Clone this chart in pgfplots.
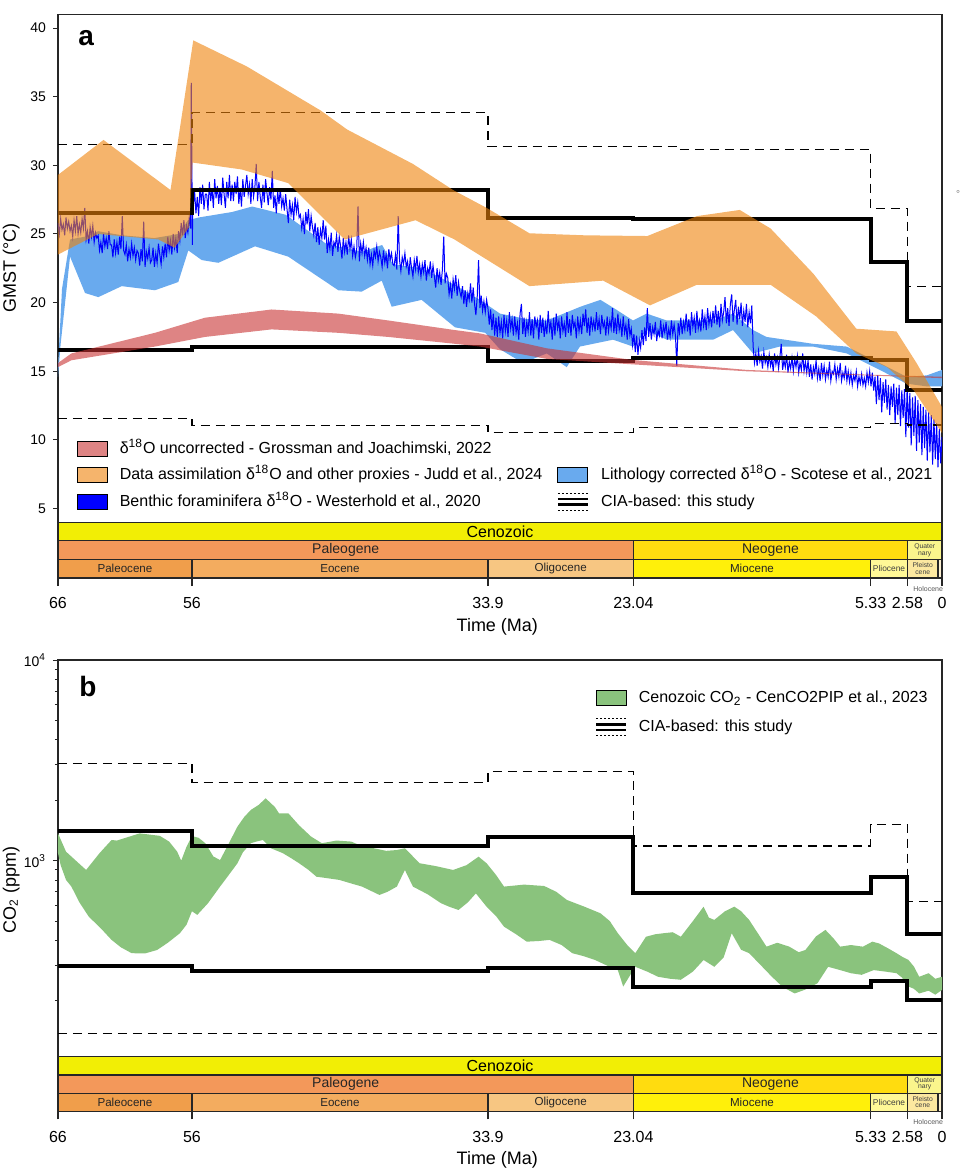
\documentclass[border=0pt]{standalone}
\usepackage{pgfplots}
\pgfplotsset{compat=1.18}
\usepackage{pgfplotstable}
\usepackage{fontspec}
\setmainfont{Liberation Sans}

% geological time scale colours
\definecolor{cenozoic}{RGB}{242,238,5}
\definecolor{paleogene}{RGB}{243,152,90}
\definecolor{neogene}{RGB}{255,220,15}
\definecolor{quaternary}{RGB}{250,245,140}
\definecolor{paleocene}{RGB}{240,158,75}
\definecolor{eocene}{RGB}{243,172,95}
\definecolor{oligocene}{RGB}{247,198,130}
\definecolor{miocene}{RGB}{255,240,10}
\definecolor{pliocene}{RGB}{255,248,150}
\definecolor{pleistocene}{RGB}{252,232,160}
\definecolor{holocene}{RGB}{252,240,210}
% data series colours
\definecolor{judd}{RGB}{238,130,10}
\definecolor{grossman}{RGB}{200,50,50}
\definecolor{scotese}{RGB}{105,170,238}
\definecolor{westerhold}{RGB}{0,0,255}
\definecolor{cenco}{RGB}{138,195,125}

\pgfplotsset{
  /pgf/number format/assume math mode=true,
  patch legend/.style={legend image code/.code={\fill[##1] (0pt,-3.75pt) rectangle (15pt,3.75pt);}},
  cia legend/.style={legend image code/.code={%
      \draw[line width=0.6pt, dash pattern=on 1pt off 1pt] (0pt,4.3pt) -- (15pt,4.3pt);
      \draw[line width=1.4pt] (0pt,1.45pt) -- (15pt,1.45pt);
      \draw[line width=1.4pt] (0pt,-1.45pt) -- (15pt,-1.45pt);
      \draw[line width=0.6pt, dash pattern=on 1pt off 1pt] (0pt,-4.3pt) -- (15pt,-4.3pt);}},
  cia solid/.style={black, line width=2pt, const plot, mark=none},
  cia dashed/.style={black, line width=0.75pt, dash pattern=on 4.5pt off 3pt, const plot, mark=none},
  ts bar/.style={draw=black!85, line width=0.6pt, mark=none},
  main axis/.style={
    width=442pt, scale only axis,
    xmin=0, xmax=66, x dir=reverse, xtick=\empty,
    ytick pos=left, tick align=outside, major tick length=2.5pt,
    axis line style={black!85, line width=0.6pt},
    tick style={black!85, line width=0.5pt},
    yticklabel style={font=\fontsize{7}{8}\selectfont},
    ylabel style={font=\fontsize{9}{10}\selectfont, anchor=center},
    legend cell align=left,
  },
  timescale axis/.style={
    width=442pt, scale only axis, clip=false,
    xmin=0, xmax=66, x dir=reverse, ymin=0, ymax=3, ytick=\empty,
    xtick={66,56,33.9,23.04,5.33,2.58,0},
    xticklabels={66,56,33.9,23.04,5.33,2.58,0},
    xtick pos=left, tick align=outside, major tick length=4pt,
    axis line style={black!85, line width=0.6pt},
    tick style={black!85, line width=0.6pt},
    xticklabel style={font=\fontsize{8}{9}\selectfont, yshift=-2.3pt},
    xlabel={Time (Ma)},
    xlabel style={at={(axis description cs:0.497,0)}, anchor=base, yshift=-26.8pt,
                  font=\fontsize{9}{10}\selectfont},
  },
}

% one box of the time scale: colour, older age, younger age, lower row, upper row
\newcommand{\tsbox}[5]{\addplot[ts bar, fill=#1] coordinates {(#2,#4) (#3,#4) (#3,#5) (#2,#5) (#2,#4)};}
\newcommand{\timescalebars}{%
  \tsbox{cenozoic}{66}{0}{2}{3}
  \tsbox{paleogene}{66}{23.04}{1}{2}
  \tsbox{neogene}{23.04}{2.58}{1}{2}
  \tsbox{quaternary}{2.58}{0}{1}{2}
  \tsbox{paleocene}{66}{56}{0}{1}
  \tsbox{eocene}{56}{33.9}{0}{1}
  \tsbox{oligocene}{33.9}{23.04}{0}{1}
  \tsbox{miocene}{23.04}{5.33}{0}{1}
  \tsbox{pliocene}{5.33}{2.58}{0}{1}
  \tsbox{pleistocene}{2.58}{0.3}{0}{1}
  \tsbox{holocene}{0.3}{0}{0}{1}
  \node[font=\fontsize{8}{9}\selectfont, text=black] at (axis cs:33,2.5) {Cenozoic};
  \node[font=\fontsize{7}{8}\selectfont, text=black!85] at (axis cs:44.52,1.5) {Paleogene};
  \node[font=\fontsize{7}{8}\selectfont, text=black!85] at (axis cs:12.81,1.5) {Neogene};
  \node[font=\fontsize{3.4}{3.2}\selectfont, align=center, inner sep=0pt, text=black!75] at (axis cs:1.29,1.5) {Quater\\nary};
  \node[font=\fontsize{5.8}{6}\selectfont, text=black!85] at (axis cs:61,0.5) {Paleocene};
  \node[font=\fontsize{5.8}{6}\selectfont, text=black!85] at (axis cs:44.95,0.5) {Eocene};
  \node[font=\fontsize{5.8}{6}\selectfont, text=black!85] at (axis cs:28.47,0.5) {Oligocene};
  \node[font=\fontsize{5.8}{6}\selectfont, text=black!85] at (axis cs:14.185,0.5) {Miocene};
  \node[font=\fontsize{4.2}{4.2}\selectfont, text=black!75] at (axis cs:3.955,0.5) {Pliocene};
  \node[font=\fontsize{3.4}{3.2}\selectfont, align=center, inner sep=0pt, text=black!75] at (axis cs:1.44,0.5) {Pleisto\\cene};
  \node[font=\fontsize{3.5}{3.5}\selectfont, anchor=north east, inner sep=0pt, text=black!65] at (axis cs:-0.1,-0.45) {Holocene};
}

% ---------------- GMST reconstructions (age in Ma, temperature in deg C) ----------------
% Westerhold et al. 2020, benthic foraminifera d18O
\pgfplotstableread{
age temp
66.0 25.8
65.9 25.0
65.8 26.1
65.7 25.3
65.6 25.7
65.5 24.9
65.4 26.2
65.3 25.4
65.2 25.9
65.1 25.2
65.0 25.6
64.9 24.8
64.8 26.0
64.7 25.2
64.6 26.3
64.5 25.0
64.4 25.7
64.3 25.1
64.2 26.1
64.1 25.4
64.0 26.9
63.9 24.6
63.8 25.2
63.7 24.3
63.6 25.5
63.5 24.8
63.4 25.6
63.3 24.4
63.2 25.1
63.1 24.7
63.0 24.9
62.9 23.8
62.8 24.4
62.7 23.6
62.6 25.0
62.5 24.1
62.4 24.7
62.3 23.9
62.2 25.2
62.1 24.2
62.0 24.2
61.9 23.3
61.8 24.6
61.7 23.6
61.6 24.4
61.5 23.5
61.4 24.8
61.3 23.9
61.2 26.3
61.1 23.8
61.0 23.5
60.9 24.2
60.8 23.0
60.7 23.9
60.6 23.3
60.5 24.3
60.4 23.4
60.3 24.0
60.2 23.1
60.1 23.8
60.0 23.6
59.9 22.7
59.8 23.9
59.7 23.0
59.6 25.9
59.5 22.6
59.4 23.7
59.3 23.2
59.2 24.0
59.1 22.9
59.0 23.1
58.9 24.0
58.8 22.6
58.7 23.6
58.6 22.9
58.5 24.3
58.4 23.5
58.3 22.8
58.2 24.1
58.1 23.3
58.0 24.3
57.9 23.3
57.8 24.8
57.7 23.8
57.6 24.5
57.5 23.5
57.4 25.0
57.3 24.0
57.2 24.7
57.1 23.6
57.0 25.2
56.9 24.5
56.8 25.8
56.7 24.9
56.6 26.0
56.5 24.7
56.4 25.6
56.3 25.1
56.2 26.2
56.1 25.4
56.05 36.0
56.0 29.7
55.97 24.2
55.93 27.8
55.9 27.0
55.8 28.1
55.7 26.5
55.6 27.7
55.5 26.3
55.4 28.4
55.3 27.2
55.2 28.6
55.1 26.8
55.0 27.9
54.9 27.9
54.8 26.7
54.7 28.8
54.6 27.4
54.5 28.3
54.4 26.9
54.3 29.0
54.2 27.6
54.1 28.5
54.0 27.2
53.9 28.3
53.8 27.1
53.7 29.1
53.6 27.9
53.5 26.9
53.4 28.8
53.3 27.6
53.2 29.3
53.1 27.4
53.0 28.6
52.9 27.4
52.8 28.8
52.7 27.9
52.6 29.2
52.5 27.2
52.4 28.3
52.3 27.0
52.2 29.0
52.1 27.7
52.0 28.5
51.9 29.3
51.8 27.9
51.7 28.6
51.6 27.2
51.5 29.0
51.4 27.7
51.3 28.4
51.2 30.1
51.1 27.4
51.0 28.8
50.9 27.7
50.8 26.9
50.7 28.6
50.6 27.3
50.5 29.0
50.4 28.0
50.3 27.1
50.2 28.4
50.1 27.5
50.0 29.6
49.9 26.9
49.8 27.8
49.7 26.5
49.6 28.1
49.5 27.2
49.4 28.3
49.3 27.0
49.2 27.6
49.1 26.7
49.0 27.9
48.9 26.8
48.8 25.8
48.7 27.5
48.6 26.4
48.5 27.1
48.4 26.0
48.3 27.7
48.2 26.6
48.1 27.3
48.0 26.2
47.9 26.4
47.8 25.4
47.7 26.1
47.6 25.0
47.5 26.6
47.4 25.7
47.3 26.8
47.2 25.2
47.1 26.3
47.0 25.5
46.9 24.9
46.8 25.8
46.7 24.4
46.6 25.5
46.5 24.2
46.4 25.3
46.3 24.7
46.2 26.0
46.1 24.6
46.0 25.6
45.9 23.6
45.8 24.6
45.7 23.9
45.6 25.1
45.5 23.4
45.4 24.4
45.3 24.1
45.2 24.9
45.1 23.7
45.0 24.8
44.9 24.1
44.8 23.2
44.7 24.7
44.6 23.7
44.5 24.4
44.4 23.5
44.3 24.9
44.2 23.9
44.1 24.6
44.0 23.4
43.9 24.1
43.8 23.3
43.7 23.8
43.6 27.0
43.5 23.0
43.4 24.3
43.3 23.6
43.2 24.4
43.1 23.4
43.0 24.0
42.9 23.1
42.8 24.0
42.7 22.8
42.6 23.5
42.5 22.7
42.4 23.8
42.3 23.3
42.2 24.1
42.1 23.0
42.0 23.7
41.9 23.3
41.8 22.6
41.7 23.8
41.6 22.9
41.5 23.5
41.4 22.5
41.3 23.9
41.2 23.1
41.1 23.6
41.0 22.8
40.9 22.7
40.8 23.5
40.7 22.4
40.6 26.3
40.5 23.1
40.4 22.3
40.3 23.3
40.2 22.8
40.1 23.6
40.0 22.6
39.9 23.0
39.8 22.0
39.7 23.3
39.6 22.5
39.5 21.9
39.4 23.1
39.3 22.4
39.2 23.4
39.1 22.2
39.0 22.8
38.9 21.9
38.8 22.8
38.7 22.2
38.6 23.1
38.5 21.6
38.4 22.5
38.3 22.1
38.2 23.0
38.1 21.8
38.0 22.7
37.9 21.9
37.8 21.1
37.7 22.5
37.6 21.6
37.5 22.2
37.4 21.3
37.3 22.4
37.2 24.8
37.1 21.4
37.0 22.1
36.9 21.8
36.8 20.6
36.7 21.3
36.6 20.3
36.5 21.7
36.4 21.0
36.3 22.0
36.2 20.5
36.1 21.5
36.0 20.8
35.9 20.4
35.8 21.2
35.7 19.9
35.6 20.9
35.5 19.7
35.4 20.7
35.3 20.2
35.2 21.4
35.1 20.0
35.0 21.1
34.9 19.9
34.8 19.1
34.7 20.4
34.6 23.1
34.5 19.6
34.4 20.5
34.3 19.4
34.2 20.1
34.1 19.3
34.0 20.2
33.9 19.6
33.8 18.4
33.7 19.5
33.6 18.0
33.5 19.2
33.4 17.6
33.3 18.9
33.2 17.5
33.1 19.0
33.0 17.8
32.9 18.6
32.8 17.4
32.7 19.1
32.6 17.9
32.5 18.7
32.4 17.5
32.3 19.3
32.2 18.1
32.1 18.8
32.0 17.6
31.9 19.0
31.8 17.8
31.7 18.5
31.6 17.3
31.5 19.2
31.4 19.9
31.3 17.7
31.2 18.9
31.1 17.5
31.0 18.6
30.9 17.9
30.8 19.3
30.7 17.6
30.6 18.8
30.5 17.4
30.4 19.0
30.3 18.2
30.2 18.7
30.1 17.3
30.0 19.1
29.9 17.8
29.8 18.9
29.7 17.5
29.6 18.5
29.5 17.7
29.4 19.4
29.3 18.0
29.2 18.6
29.1 17.3
29.0 18.9
28.9 17.6
28.8 19.2
28.7 18.1
28.6 18.7
28.5 17.4
28.4 19.0
28.3 17.9
28.2 18.5
28.1 17.5
28.0 19.3
27.9 17.8
27.8 18.8
27.7 17.6
27.6 19.1
27.5 18.2
27.4 18.6
27.3 17.4
27.2 19.0
27.1 17.9
27.0 18.7
26.9 17.7
26.8 19.2
26.7 18.3
26.6 19.5
26.5 17.8
26.4 18.9
26.3 17.6
26.2 19.0
26.1 18.1
26.0 18.7
25.9 17.9
25.8 19.3
25.7 18.0
25.6 18.8
25.5 17.7
25.4 19.1
25.3 18.2
25.2 18.6
25.1 17.6
25.0 19.0
24.9 17.9
24.8 18.7
24.7 18.1
24.6 19.6
24.5 17.8
24.4 18.9
24.3 17.7
24.2 19.2
24.1 18.0
24.0 18.6
23.9 17.5
23.8 19.0
23.7 17.8
23.6 18.4
23.5 17.3
23.4 18.8
23.3 17.6
23.2 18.1
23.1 16.9
23.0 17.7
22.9 16.4
22.8 17.6
22.7 16.2
22.6 17.3
22.5 16.7
22.4 18.0
22.3 16.9
22.2 18.2
22.1 17.2
22.0 19.6
21.9 17.5
21.8 18.5
21.7 17.3
21.6 18.2
21.5 17.7
21.4 18.6
21.3 17.2
21.2 18.0
21.1 17.6
21.0 18.7
20.9 17.4
20.8 18.3
20.7 17.8
20.6 18.6
20.5 17.3
20.4 18.1
20.3 17.5
20.2 18.7
20.1 17.7
20.0 18.4
19.9 17.6
19.8 15.4
19.7 18.5
19.6 17.8
19.5 18.9
19.4 17.7
19.3 18.6
19.2 18.0
19.1 19.2
19.0 17.9
18.9 18.8
18.8 17.6
18.7 19.3
18.6 18.2
18.5 18.9
18.4 17.8
18.3 19.4
18.2 18.1
18.1 18.7
18.0 17.9
17.9 19.5
17.8 18.3
17.7 19.0
17.6 18.0
17.5 19.6
17.4 18.4
17.3 19.1
17.2 18.2
17.1 19.4
17.0 18.5
16.9 19.8
16.8 18.4
16.7 19.4
16.6 18.2
16.5 19.9
16.4 18.7
16.3 19.3
16.2 20.4
16.1 18.5
16.0 19.6
15.9 18.3
15.8 19.9
15.7 20.6
15.6 18.6
15.5 19.5
15.4 20.2
15.3 18.4
15.2 19.7
15.1 18.8
15.0 20.0
14.9 18.3
14.8 19.4
14.7 18.6
14.6 19.9
14.5 18.2
14.4 19.3
14.3 18.5
14.2 19.8
14.1 16.8
14.0 15.6
13.9 16.3
13.8 15.4
13.7 16.5
13.6 15.7
13.5 16.1
13.4 15.2
13.3 16.4
13.2 15.6
13.1 16.0
13.0 15.3
12.9 16.2
12.8 15.4
12.7 15.9
12.6 15.0
12.5 16.3
12.4 15.5
12.3 16.0
12.2 15.2
12.1 16.1
12.0 17.0
11.9 15.1
11.8 15.8
11.7 15.3
11.6 16.2
11.5 14.9
11.4 15.7
11.3 15.2
11.2 16.0
11.1 15.0
11.0 15.9
10.9 15.3
10.8 16.1
10.7 14.9
10.6 15.6
10.5 15.1
10.4 16.3
10.3 15.0
10.2 15.7
10.1 14.9
10.0 15.8
9.9 14.6
9.8 15.5
9.7 14.4
9.6 15.3
9.5 14.8
9.4 15.8
9.3 14.5
9.2 15.2
9.1 14.3
9.0 15.6
8.9 14.7
8.8 15.4
8.7 14.4
8.6 15.1
8.5 14.6
8.4 15.7
8.3 14.3
8.2 15.0
8.1 14.8
8.0 15.5
7.9 14.4
7.8 15.2
7.7 14.6
7.6 15.6
7.5 14.3
7.4 14.9
7.3 14.5
7.2 15.4
7.1 14.3
7.0 15.0
6.9 14.2
6.8 14.9
6.7 14.0
6.6 14.7
6.5 14.3
6.4 15.0
6.3 13.9
6.2 14.6
6.1 14.1
6.0 14.8
5.9 14.0
5.8 14.5
5.7 13.9
5.6 14.9
5.5 14.2
5.4 15.0
5.3 13.9
5.2 14.9
5.1 13.6
5.0 14.6
4.9 12.6
4.8 14.7
4.7 12.9
4.6 14.5
4.5 12.0
4.4 14.2
4.3 12.7
4.2 14.4
4.1 12.2
4.0 14.0
3.9 11.8
3.8 13.9
3.7 12.4
3.6 14.1
3.5 11.2
3.4 13.8
3.3 11.8
3.2 14.0
3.1 11.0
3.0 13.6
2.9 11.6
2.8 13.7
2.7 10.2
2.6 13.9
2.5 10.9
2.4 13.4
2.3 9.6
2.2 13.1
2.1 10.3
2.0 13.2
1.9 9.2
1.8 12.9
1.7 9.8
1.6 12.6
1.5 8.9
1.4 12.4
1.3 9.4
1.2 12.2
1.1 8.5
1.0 12.0
0.9 9.1
0.8 11.8
0.7 8.2
0.6 11.5
0.5 8.6
0.4 11.2
0.3 8.0
0.2 10.8
0.1 8.3
0.0 10.2
}\westerhold

% Scotese et al. 2021, lithology corrected: upper edge old to young, then lower edge young to old
\pgfplotstableread{
age temp
66.0 15.3
65.7 21.0
65.1 24.6
64.0 24.8
63.0 25.2
61.2 24.9
58.8 24.7
57.0 25.0
56.3 26.0
55.5 26.2
53.0 26.6
51.5 27.0
49.0 26.4
46.0 24.3
43.3 23.7
41.8 24.2
41.0 22.8
38.8 22.5
36.4 21.3
34.5 20.2
33.0 19.2
31.0 18.8
29.5 18.7
27.0 19.7
25.5 20.2
24.5 19.6
23.07 18.7
22.05 19.2
20.55 18.7
17.09 18.7
15.6 19.2
14.11 18.0
13.1 17.5
9.63 17.0
7.12 16.8
4.65 15.6
2.66 14.6
1.14 14.7
0.0 15.1
0.0 13.9
1.14 13.9
2.66 14.1
4.65 15.1
7.12 16.3
9.63 16.8
12.1 16.8
14.11 16.3
15.6 18.0
17.09 17.3
20.55 17.3
22.05 18.0
23.07 16.8
24.56 17.3
27.03 16.8
28.02 15.3
29.51 16.3
31.28 15.6
33.0 16.6
34.1 17.8
36.36 18.2
38.85 20.2
41.09 19.7
41.83 21.6
43.33 20.8
45.07 20.9
48.81 23.35
51.29 24.1
54.03 22.9
55.27 23.1
56.27 23.8
57.02 21.5
58.76 20.9
61.24 21.2
62.99 20.4
63.98 20.7
65.1 23.35
65.8 17.0
66.0 14.6
}\scotese

% Grossman and Joachimski 2022, uncorrected d18O
\pgfplotstableread{
age temp
66.0 15.6
65.0 16.3
58.76 17.8
55.03 18.9
50.05 19.5
45.07 19.2
41.34 18.7
36.36 18.0
34.5 17.76
29.5 16.67
23.05 15.82
14.6 15.1
7.1 14.8
0.0 14.6
0.0 14.5
7.1 14.75
14.6 15.0
23.05 15.5
29.5 15.9
34.5 16.8
36.36 17.0
41.34 17.5
45.07 17.8
50.05 18.05
55.03 17.5
58.76 16.8
65.0 15.8
66.0 15.3
}\grossman

% Judd et al. 2024, data assimilation
\pgfplotstableread{
age temp
66.0 29.3
62.6 31.85
57.6 28.2
55.9 39.1
51.9 37.2
46.4 34.0
44.4 32.6
39.5 30.1
36.5 28.2
34.0 26.9
30.8 25.05
26.6 24.9
22.0 24.85
18.3 26.3
15.1 26.75
12.8 25.4
9.6 22.1
6.4 18.1
3.4 17.9
1.9 15.6
0.0 12.4
0.0 10.5
2.1 13.6
4.1 15.3
6.4 16.3
9.4 19.0
12.8 21.3
18.3 21.3
21.8 19.8
25.3 21.6
30.8 21.2
36.4 24.6
39.3 26.0
44.6 24.6
48.8 28.7
52.3 29.7
55.95 30.2
56.2 25.5
57.3 24.0
58.5 24.6
63.0 25.0
66.0 23.5
}\judd

% ---------------- Cenozoic CO2 (CenCO2PIP 2023), ppm ----------------
\pgfplotstableread{
age co2
66.0 1368
65.4 1109
63.9 899
62.9 1090
62.0 1268
61.6 1260
59.9 1368
58.4 1330
57.7 1245
57.1 1109
56.8 1000
56.4 1175
56.0 1327
55.5 1300
55.0 1222
54.4 1050
53.9 1007
53.3 1200
52.6 1479
52.1 1650
51.6 1791
51.0 1900
50.5 2046
50.1 1932
49.8 1850
49.5 1722
48.8 1722
48.0 1500
47.1 1318
46.3 1222
45.2 1260
44.1 1245
43.3 1180
42.4 1153
41.5 1120
40.7 1130
40.1 1153
39.5 1050
39.0 971
37.8 940
36.5 899
35.5 950
34.6 1047
34.0 971
33.3 850
32.7 743
31.2 760
29.7 748
28.8 700
28.0 637
26.7 590
25.5 547
24.8 500
24.2 435
23.5 380
22.9 346
22.1 418
21.4 430
20.8 435
20.1 440
19.5 418
18.6 500
17.8 590
17.4 520
17.0 507
16.2 560
15.5 590
15.0 560
14.4 507
13.7 430
13.1 373
12.3 390
11.4 373
10.7 350
10.2 359
9.4 420
8.7 452
8.1 410
7.6 373
6.8 380
5.9 373
5.2 395
4.7 387
4.0 365
3.4 346
2.9 330
2.5 320
2.1 297
1.7 264
1.0 275
0.5 258
0.0 264
0.0 227
0.5 215
1.0 225
1.7 218
2.1 230
2.5 236
3.0 262
3.4 275
4.2 280
5.1 285
6.0 270
6.8 275
7.6 285
8.5 296
9.3 245
10.2 228
11.0 218
11.9 235
12.7 264
13.5 300
14.4 346
15.0 360
15.7 435
16.3 330
17.0 296
17.8 320
18.6 280
19.5 255
20.3 258
21.2 264
22.0 280
22.9 296
23.8 236
24.2 285
25.0 300
25.9 320
26.8 335
27.6 346
28.4 380
29.3 403
30.1 398
31.0 395
31.8 430
32.7 469
33.3 530
34.0 590
34.8 687
35.4 620
36.1 568
36.8 590
37.4 614
38.4 680
39.5 743
40.1 899
40.7 743
41.4 700
42.0 675
43.3 743
44.1 770
45.0 802
46.0 820
46.7 832
47.3 900
48.0 971
48.6 1030
49.2 1089
50.1 1153
50.7 1268
51.2 1245
51.6 1222
52.2 1100
52.6 971
53.3 840
53.9 743
54.8 614
55.6 537
56.0 560
56.4 480
56.9 435
57.8 390
58.6 359
59.5 345
60.5 346
61.3 370
62.0 403
62.8 460
63.7 526
64.4 620
65.0 743
65.4 802
65.8 950
66.0 1090
}\cenco

\begin{document}
\begin{tikzpicture}
\path[use as bounding box] (0pt,0pt) rectangle (480pt,-585pt);

% ===================== panel a: GMST =====================
\begin{axis}[main axis, at={(29pt,-7.15pt)}, anchor=north west, height=254pt,
  ymin=4, ymax=41, ytick={5,10,...,40},
  ylabel={GMST (°C)}, ylabel style={at={(axis description cs:-0.053,0.5)}},
  legend columns=2,
  legend style={at={(axis description cs:0.0215,0.16)}, anchor=north west,
    draw=none, fill=none, inner sep=0pt, outer sep=0pt,
    font=\fontsize{8}{9.6}\selectfont, row sep=5pt,
    nodes={inner sep=0pt, text height=6pt, text depth=1.5pt},
    /tikz/every odd column/.append style={column sep=6pt},
    /tikz/every even column/.append style={column sep=7pt}},
]
\addplot[forget plot, fill=scotese, draw=none] table[x=age, y=temp] {\scotese};
\addplot[forget plot, westerhold, line width=0.5pt, mark=none] table[x=age, y=temp] {\westerhold};
% CIA-based estimates
\addplot[forget plot, cia dashed] coordinates {(66,31.53) (56,33.83) (33.9,31.36) (19.8,31.17) (5.33,26.87) (2.58,21.16) (0,21.16)};
\addplot[forget plot, cia solid] coordinates {(66,26.55) (56,28.2) (33.9,26.16) (23.04,26.07) (5.33,22.98) (2.58,18.68) (0,18.68)};
\addplot[forget plot, cia solid] coordinates {(66,16.55) (56,16.74) (33.9,15.77) (23.04,15.99) (5.33,15.85) (2.58,13.65) (0,13.65)};
\addplot[forget plot, cia dashed] coordinates {(66,11.57) (56,11.06) (33.9,10.53) (23.04,10.89) (5.33,11.2) (2.58,11.1) (0,11.1)};
\addplot[forget plot, fill=grossman, fill opacity=0.6, draw=none] table[x=age, y=temp] {\grossman};
\addplot[forget plot, fill=judd, fill opacity=0.6, draw=none] table[x=age, y=temp] {\judd};

\addlegendimage{patch legend, fill=grossman, fill opacity=0.6}
\addlegendentry{δ\textsuperscript{18}O uncorrected - Grossman and Joachimski, 2022}
\addlegendimage{empty legend}
\addlegendentry{}
\addlegendimage{patch legend, fill=judd, fill opacity=0.6}
\addlegendentry{Data assimilation δ\textsuperscript{18}O and other proxies - Judd et al., 2024}
\addlegendimage{patch legend, fill=scotese}
\addlegendentry{Lithology corrected δ\textsuperscript{18}O - Scotese et al., 2021}
\addlegendimage{patch legend, fill=westerhold}
\addlegendentry{Benthic foraminifera δ\textsuperscript{18}O - Westerhold et al., 2020}
\addlegendimage{cia legend}
\addlegendentry{CIA-based: this study}

\node[font=\bfseries\fontsize{14}{14}\selectfont, anchor=base west, inner sep=0pt]
  at (axis description cs:0.0226,0.939) {a};
\end{axis}

\begin{axis}[timescale axis, at={(29pt,-261.15pt)}, anchor=north west, height=27.85pt]
\timescalebars
\end{axis}

% ===================== panel b: CO2 =====================
\begin{axis}[main axis, at={(29pt,-330pt)}, anchor=north west, height=198.35pt,
  ymode=log, ymin=105.5, ymax=10000,
  ytick={1000,10000}, yticklabels={10\textsuperscript{3},10\textsuperscript{4}},
  minor ytick={200,300,400,500,600,700,800,900,2000,3000,4000,5000,6000,7000,8000,9000},
  minor tick length=1.5pt,
  ylabel={CO\textsubscript{2} (ppm)}, ylabel style={at={(axis description cs:-0.053,0.42)}},
  legend columns=1,
  legend style={at={(axis description cs:0.6075,0.924)}, anchor=north west,
    draw=none, fill=none, inner sep=0pt, outer sep=0pt,
    font=\fontsize{8}{9.6}\selectfont, row sep=6pt,
    nodes={inner sep=0pt, text height=6pt, text depth=1.5pt},
    /tikz/every odd column/.append style={column sep=5.5pt}},
]
\addplot[forget plot, fill=cenco, draw=none] table[x=age, y=co2] {\cenco};
\addplot[forget plot, cia dashed] coordinates {(66,3055) (56,2448) (33.9,2775) (23.04,1183) (5.33,1518) (2.58,625) (0,625)};
\addplot[forget plot, cia solid] coordinates {(66,1407) (56,1183) (33.9,1313) (23.04,692) (5.33,832) (2.58,430) (0,430)};
\addplot[forget plot, cia solid] coordinates {(66,298) (56,282) (33.9,293) (23.04,236) (5.33,252) (2.58,202) (0,202)};
\addplot[forget plot, cia dashed] coordinates {(66,138) (0,138)};

\addlegendimage{patch legend, fill=cenco}
\addlegendentry{Cenozoic CO\textsubscript{2} - CenCO2PIP et al., 2023}
\addlegendimage{cia legend}
\addlegendentry{CIA-based: this study}

\node[font=\bfseries\fontsize{14}{14}\selectfont, anchor=base west, inner sep=0pt]
  at (axis description cs:0.0238,0.909) {b};
\end{axis}

\begin{axis}[timescale axis, at={(29pt,-528.35pt)}, anchor=north west, height=27.3pt]
\timescalebars
\end{axis}

\node[font=\fontsize{5}{5}\selectfont, text=black!50, inner sep=0pt] at (479pt,-97pt) {°};
\end{tikzpicture}
\end{document}
